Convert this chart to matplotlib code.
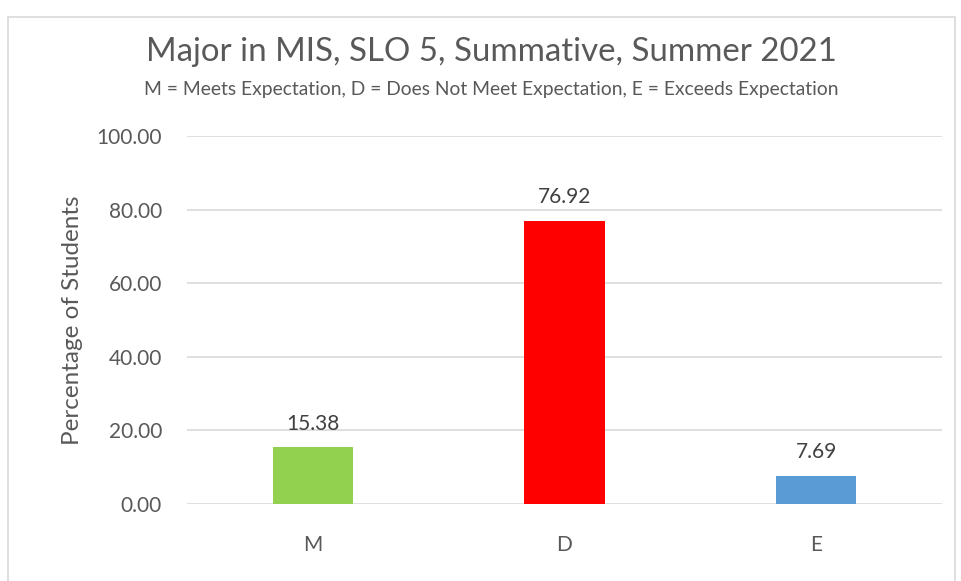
import matplotlib
matplotlib.use("Agg")
import matplotlib.pyplot as plt
from matplotlib.patches import Rectangle

categories = ["M", "D", "E"]
values = [15.38, 76.92, 7.69]
colors = ["#92D050", "#FF0000", "#5B9BD5"]
yticks = [0, 20, 40, 60, 80, 100]

title = "Major in MIS, SLO 5, Summative, Summer 2021"
subtitle = "M = Meets Expectation, D = Does Not Meet Expectation, E = Exceeds Expectation"
ylabel = "Percentage of Students"

plt.rcParams["font.family"] = ["Lato", "DejaVu Sans"]
text_color = "#595959"

fig = plt.figure(figsize=(9.62, 5.81), dpi=100)
fig.patch.set_facecolor("white")

# chart frame
fig.add_artist(Rectangle((8 / 962, -0.05), 947 / 962, 1 - 17 / 581 + 0.05,
                         transform=fig.transFigure, fill=False,
                         edgecolor="#D9D9D9", linewidth=1.2))

ax = fig.add_axes([187 / 962, 1 - 504 / 581, (942 - 187) / 962, (504 - 136) / 581])
x = list(range(len(categories)))
ax.bar(x, values, width=0.32, color=colors, zorder=3)
ax.set_xlim(-0.5, len(categories) - 0.5)
ax.set_ylim(0, 100)
ax.set_yticks(yticks)
ax.set_yticklabels([f"{v:.2f}" for v in yticks])
ax.set_xticks(x)
ax.set_xticklabels(categories)
ax.yaxis.grid(True, color="#D9D9D9", linewidth=1.2, zorder=0)
for s in ax.spines.values():
    s.set_visible(False)
ax.tick_params(axis="both", length=0, labelsize=15, colors=text_color)
ax.tick_params(axis="y", pad=18)
ax.tick_params(axis="x", pad=22)
ax.set_ylabel(ylabel, fontsize=17.5, color=text_color, labelpad=10)

for xi, v in zip(x, values):
    ax.annotate(f"{v:.2f}", (xi, v), xytext=(0, 10), textcoords="offset points",
                ha="center", va="bottom", fontsize=15, color="#404040")

fig.text(491 / 962, 1 - 52 / 581, title, ha="center", va="center",
         fontsize=23.8, color=text_color)
fig.text(491 / 962, 1 - 90 / 581, subtitle, ha="center", va="center",
         fontsize=13.9, color=text_color)

fig.savefig("out.png", dpi=100)
